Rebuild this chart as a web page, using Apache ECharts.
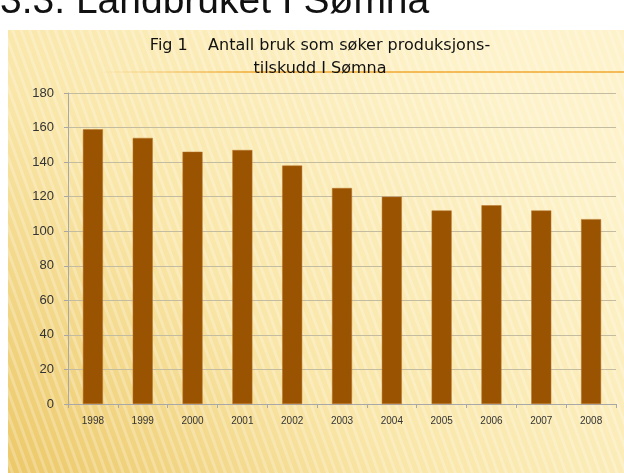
<!DOCTYPE html>
<html>
<head>
<meta charset="utf-8">
<script src="https://cdn.jsdelivr.net/npm/echarts@6/dist/echarts.min.js"></script>
<style>
  html, body { margin: 0; padding: 0; background: #fff; }
  #chart { width: 624px; height: 473px; }
</style>
</head>
<body>
<div id="chart"></div>
<script>
// data
const years = ['1998', '1999', '2000', '2001', '2002', '2003', '2004', '2005', '2006', '2007', '2008'];
const antallBruk = [159, 154, 146, 147, 138, 125, 120, 112, 115, 112, 107];
const yTicks = [0, 20, 40, 60, 80, 100, 120, 140, 160, 180];

// stripe pattern for the background panel
function stripeCanvas() {
  let c = document.createElement('canvas');
  c.width = 8; c.height = 40;
  let ctx = c.getContext('2d');
  ctx.fillStyle = 'rgba(255,255,255,0.25)';
  ctx.fillRect(0, 0, 3, 40);
  return c;
}

let chart = echarts.init(document.getElementById('chart'), null, { renderer: 'canvas' });

let option = {
  backgroundColor: '#ffffff',
  animation: false,
  graphic: [
    {
      type: 'rect', z: -10, silent: true,
      shape: { x: 8, y: 30, width: 616, height: 443 },
      style: {
        fill: new echarts.graphic.LinearGradient(0, 1, 0.7, 0, [
          { offset: 0, color: '#ecc868' },
          { offset: 0.45, color: '#f9e6a8' },
          { offset: 1, color: '#fdf2c9' }
        ])
      }
    },
    {
      type: 'rect', z: -9, silent: true,
      shape: { x: 8, y: 30, width: 616, height: 443 },
      style: {
        fill: { image: stripeCanvas(), repeat: 'repeat', rotation: -0.35 }
      }
    },
    {
      // title underline
      type: 'line', z: -8, silent: true,
      shape: { x1: 100, y1: 72, x2: 624, y2: 72 },
      style: {
        lineWidth: 1.5,
        stroke: new echarts.graphic.LinearGradient(0, 0, 1, 0, [
          { offset: 0, color: 'rgba(240,168,48,0)' },
          { offset: 0.3, color: 'rgba(240,168,48,1)' },
          { offset: 1, color: 'rgba(240,168,48,1)' }
        ])
      }
    },
    {
      // slide heading, cut at top
      type: 'text', silent: true, x: 0, y: 22,
      style: {
        text: '3.3. Landbruket I Sømna',
        font: '39px "Liberation Sans", Arial, sans-serif',
        fill: '#111',
        verticalAlign: 'bottom'
      }
    },
    {
      // chart title
      type: 'text', silent: true, x: 320, y: 34,
      style: {
        text: 'Fig 1    Antall bruk som søker produksjons-\ntilskudd I Sømna',
        font: '16px "DejaVu Sans", sans-serif',
        fill: '#111',
        align: 'center',
        verticalAlign: 'top',
        lineHeight: 23
      }
    }
  ],
  grid: { left: 68, right: 8, top: 93, bottom: 69 },
  xAxis: {
    type: 'category',
    data: years,
    axisLine: { lineStyle: { color: '#a8a8a8' } },
    axisTick: { show: true, length: 4, lineStyle: { color: '#a8a8a8' } },
    axisLabel: {
      color: '#333',
      fontSize: 10,
      fontFamily: 'Liberation Sans, Arial, sans-serif',
      margin: 12
    }
  },
  yAxis: {
    type: 'value',
    min: 0,
    max: 180,
    interval: 20,
    axisLine: { show: true, lineStyle: { color: '#a8a8a8' } },
    axisTick: { show: true, length: 4, lineStyle: { color: '#a8a8a8' } },
    splitLine: { lineStyle: { color: '#c4bca0' } },
    axisLabel: {
      color: '#333',
      fontSize: 13,
      fontFamily: 'Liberation Sans, Arial, sans-serif',
      margin: 14,
      formatter: function (v) { return yTicks.indexOf(v) >= 0 ? String(v) : ''; }
    }
  },
  series: [{
    type: 'bar',
    data: antallBruk,
    barWidth: 20,
    itemStyle: { color: '#9a5300', borderColor: '#b8742a', borderWidth: 0.5 }
  }]
};

chart.setOption(option);
</script>
</body>
</html>
